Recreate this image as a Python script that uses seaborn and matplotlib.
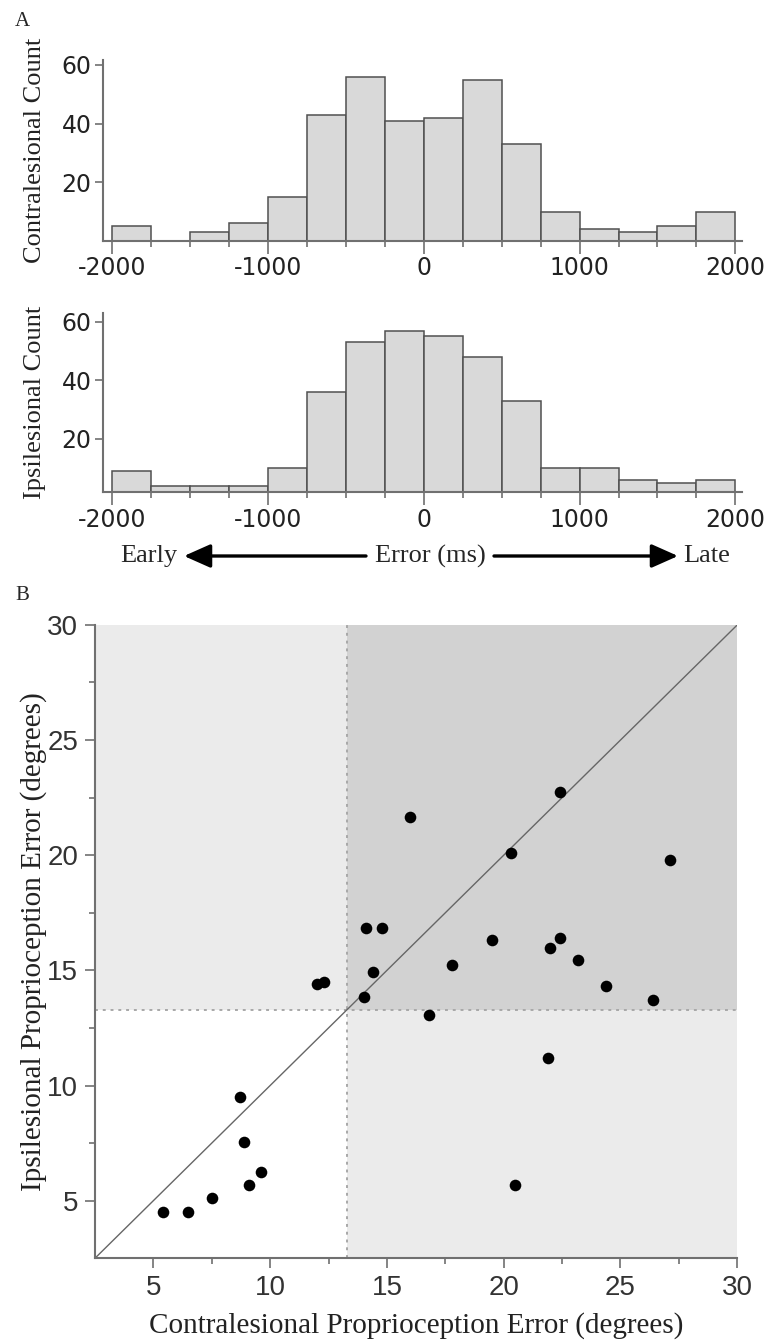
import numpy as np
import pandas as pd
import seaborn as sns
import matplotlib.pyplot as plt
from matplotlib.ticker import MultipleLocator, FixedLocator

# ---- data ----
# A: timing error histograms, 250 ms bins from -2000 to 2000
bin_edges = [-2000, -1750, -1500, -1250, -1000, -750, -500, -250, 0,
             250, 500, 750, 1000, 1250, 1500, 1750, 2000]
contra_counts = [5, 0, 3, 6, 15, 43, 56, 41, 42, 55, 33, 10, 4, 3, 5, 10]
ipsi_counts = [9, 4, 4, 4, 10, 36, 53, 57, 55, 48, 33, 10, 10, 6, 5, 6]

# B: proprioception error per subject (degrees)
contra_err = [5.4, 6.5, 7.5, 8.7, 8.9, 9.1, 9.6, 12.0, 12.3, 14.0, 14.4, 14.1,
              14.8, 16.0, 16.8, 17.8, 19.5, 20.3, 20.5, 21.9, 22.0, 22.4, 22.4,
              23.2, 24.4, 26.4, 27.1]
ipsi_err = [4.5, 4.5, 5.1, 9.5, 7.55, 5.7, 6.25, 14.4, 14.5, 13.85, 14.95, 16.85,
            16.85, 21.65, 13.05, 15.25, 16.3, 20.1, 5.7, 11.2, 15.95, 16.4, 22.75,
            15.45, 14.3, 13.7, 19.8]
cutoff = 13.3

sns.set_style("ticks")
plt.rcParams["font.family"] = ["Liberation Sans", "DejaVu Sans"]
plt.rcParams["axes.unicode_minus"] = False
serif = ["Liberation Serif", "DejaVu Serif"]
spine_col = "#707070"

fig = plt.figure(figsize=(7.64, 13.41), dpi=100)

centers = [(a + b) / 2 for a, b in zip(bin_edges[:-1], bin_edges[1:])]
hist_df = pd.DataFrame({"center": centers, "contra": contra_counts, "ipsi": ipsi_counts})


def style_hist(ax, ylabel, ylim):
    ax.set_xlim(-2062, 2040)
    ax.set_ylim(*ylim)
    ax.xaxis.set_major_locator(FixedLocator([-2000, -1000, 0, 1000, 2000]))
    ax.xaxis.set_minor_locator(MultipleLocator(250))
    ax.yaxis.set_major_locator(FixedLocator([20, 40, 60]))
    ax.tick_params(axis="x", which="major", length=9, width=1.2, color=spine_col,
                   labelsize=17, pad=2)
    ax.tick_params(axis="x", which="minor", length=4, width=1.2, color=spine_col)
    ax.tick_params(axis="y", length=6, width=1.2, color=spine_col, labelsize=17, pad=2)
    for lab in ax.get_xticklabels() + ax.get_yticklabels():
        lab.set_family(["DejaVu Sans"])
        lab.set_color("#222222")
    sns.despine(ax=ax)
    for s in ["left", "bottom"]:
        ax.spines[s].set_color(spine_col)
        ax.spines[s].set_linewidth(1.5)
    ax.set_xlabel("")
    ax.set_ylabel(ylabel, family=serif, fontsize=19, color="#222222")
    ax.yaxis.set_label_coords(-0.088, 0.5)


# contralesional histogram
ax1 = fig.add_axes([0.1343, 0.8203, 0.8364, 0.135])
sns.histplot(data=hist_df, x="center", weights="contra", bins=bin_edges, ax=ax1,
             color="#d9d9d9", edgecolor="#505050", linewidth=1.1, alpha=1)
style_hist(ax1, "Contralesional Count", (0, 61.7))

# ipsilesional histogram
ax2 = fig.add_axes([0.1343, 0.6329, 0.8364, 0.1337])
sns.histplot(data=hist_df, x="center", weights="ipsi", bins=bin_edges, ax=ax2,
             color="#d9d9d9", edgecolor="#505050", linewidth=1.1, alpha=1)
style_hist(ax2, "Ipsilesional Count", (1.8, 63))

# Early <- Error (ms) -> Late
row_y = 1 - 556 / 1341
fig.text(149 / 764, row_y, "Early", family=serif, fontsize=19, ha="center", va="center")
fig.text(430 / 764, row_y, "Error (ms)", family=serif, fontsize=19, ha="center", va="center")
fig.text(707 / 764, row_y, "Late", family=serif, fontsize=19, ha="center", va="center")
arrow_kw = dict(arrowstyle="-|>,head_length=0.9,head_width=0.4", color="black", lw=2.4,
                shrinkA=0, shrinkB=0, mutation_scale=18)
fig.add_artist(plt.matplotlib.patches.FancyArrowPatch(
    (366 / 764, row_y), (184 / 764, row_y), transform=fig.transFigure, **arrow_kw))
fig.add_artist(plt.matplotlib.patches.FancyArrowPatch(
    (494 / 764, row_y), (678 / 764, row_y), transform=fig.transFigure, **arrow_kw))

# panel letters
fig.text(15 / 764, 1 - 22 / 1341, "A", family=serif, fontsize=15, va="center")
fig.text(15 / 764, 1 - 596 / 1341, "B", family=serif, fontsize=15, va="center")

# B: scatter
lo, hi = 2.5, 30
ax3 = fig.add_axes([0.1243, 0.0617, 0.8407, 0.4723])
ax3.set_xlim(lo, hi)
ax3.set_ylim(lo, hi)
light, dark = "#ebebeb", "#d2d2d2"
ax3.fill_between([lo, cutoff], cutoff, hi, color=light, lw=0, zorder=0)
ax3.fill_between([cutoff, hi], lo, cutoff, color=light, lw=0, zorder=0)
ax3.fill_between([cutoff, hi], cutoff, hi, color=dark, lw=0, zorder=0)
ax3.axvline(cutoff, color="#a8a8a8", ls=(0, (1.5, 2.5)), lw=1.4, zorder=1)
ax3.axhline(cutoff, color="#a8a8a8", ls=(0, (1.5, 2.5)), lw=1.4, zorder=1)
ax3.axline((lo, lo), slope=1, color="#666666", lw=1.0, zorder=2)

sns.scatterplot(x=contra_err, y=ipsi_err, ax=ax3, color="black", s=70,
                edgecolor="black", linewidth=0, zorder=3)

ax3.xaxis.set_major_locator(FixedLocator([5, 10, 15, 20, 25, 30]))
ax3.yaxis.set_major_locator(FixedLocator([5, 10, 15, 20, 25, 30]))
ax3.xaxis.set_minor_locator(FixedLocator([7.5, 12.5, 17.5, 22.5, 27.5]))
ax3.yaxis.set_minor_locator(FixedLocator([7.5, 12.5, 17.5, 22.5, 27.5]))
ax3.tick_params(which="major", length=7, width=1.2, color=spine_col, labelsize=20,
                labelcolor="#333333", pad=5)
ax3.tick_params(which="minor", length=4, width=1.2, color=spine_col)
sns.despine(ax=ax3)
for s in ["left", "bottom"]:
    ax3.spines[s].set_color(spine_col)
    ax3.spines[s].set_linewidth(1.5)
ax3.set_xlabel("Contralesional Proprioception Error (degrees)", family=serif,
               fontsize=21, color="#222222", labelpad=8)
ax3.set_ylabel("Ipsilesional Proprioception Error (degrees)", family=serif,
               fontsize=21, color="#222222")
ax3.yaxis.set_label_coords(-0.075, 0.5)

fig.savefig("out.png", dpi=100)
